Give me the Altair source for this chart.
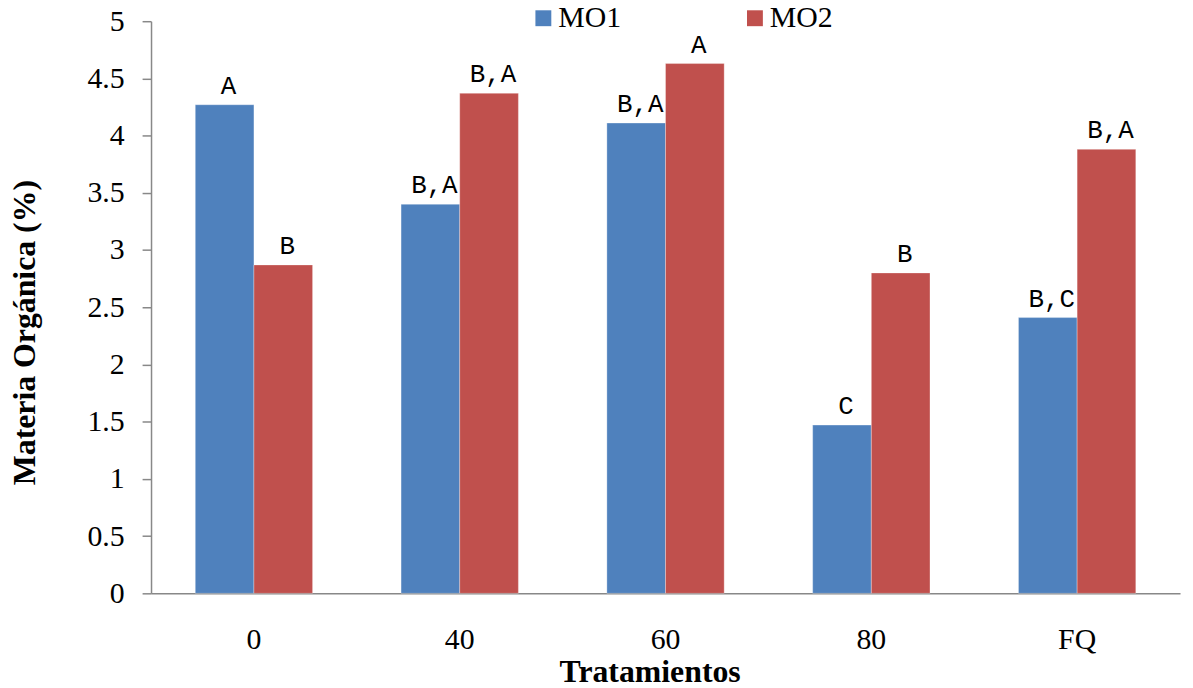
import altair as alt
import pandas as pd

tratamientos = ["0", "40", "60", "80", "FQ"]
mo1 = [4.27, 3.40, 4.11, 1.47, 2.41]
mo2 = [2.87, 4.37, 4.63, 2.80, 3.88]
letras_mo1 = ["A", "B,A", "B,A", "C", "B,C"]
letras_mo2 = ["B", "B,A", "A", "B", "B,A"]
series = ["MO1", "MO2"]
colores = ["#4F81BD", "#C0504D"]

rows = []
for t, v, l in zip(tratamientos, mo1, letras_mo1):
    rows.append({"Tratamiento": t, "Serie": "MO1", "Valor": v, "Letra": l})
for t, v, l in zip(tratamientos, mo2, letras_mo2):
    rows.append({"Tratamiento": t, "Serie": "MO2", "Valor": v, "Letra": l})
df = pd.DataFrame(rows)

serif = "Liberation Serif"
mono = "Courier New, Courier, Nimbus Mono PS, FreeMono, Liberation Mono, DejaVu Sans Mono, monospace"

x_enc = alt.X(
    "Tratamiento:N",
    sort=tratamientos,
    scale=alt.Scale(paddingInner=0.43, paddingOuter=0.215),
    axis=alt.Axis(
        title="Tratamientos",
        titleFont=serif, titleFontSize=32, titleFontWeight="bold", titleColor="black",
        titleX=502, titleY=79, titleBaseline="middle", titleAnchor=None,
        labelFont=serif, labelFontSize=30, labelColor="black", labelAngle=0,
        labelPadding=32, ticks=False, domainColor="#888888", domainWidth=1.5,
    ),
)
y_enc = alt.Y(
    "Valor:Q",
    scale=alt.Scale(domain=[0, 5], nice=False),
    axis=alt.Axis(
        title="Materia Orgánica (%)",
        titleFont=serif, titleFontSize=32, titleFontWeight="bold", titleColor="black",
        titleX=-127, titleY=313, titleAngle=270, titleBaseline="middle",
        labelFont=serif, labelFontSize=30, labelColor="black",
        values=[0, 0.5, 1, 1.5, 2, 2.5, 3, 3.5, 4, 4.5, 5],
        labelExpr="datum.value",
        labelPadding=18, tickSize=9, tickColor="#888888", domainColor="#888888",
        domainWidth=1.5, tickWidth=1.5, grid=False,
    ),
)

bars = alt.Chart(df).mark_bar(stroke="#ffffff", strokeWidth=0.6, strokeOpacity=0.5).encode(
    x=x_enc,
    xOffset=alt.XOffset("Serie:N", sort=series),
    y=y_enc,
    color=alt.Color(
        "Serie:N",
        scale=alt.Scale(domain=series, range=colores),
        legend=alt.Legend(
            title=None, orient="none", direction="horizontal",
            legendX=380, legendY=-18,
            symbolType="square", symbolSize=256, symbolStrokeWidth=0,
            labelFont=serif, labelFontSize=30, labelColor="black",
            labelOffset=0, columnPadding=119,
        ),
    ),
)

labels = alt.Chart(df).mark_text(
    font=mono, fontSize=26, baseline="alphabetic", dy=-11, dx=4, color="black"
).encode(
    x=alt.X("Tratamiento:N", sort=tratamientos),
    xOffset=alt.XOffset("Serie:N", sort=series),
    y="Valor:Q",
    text="Letra:N",
)

chart = (
    alt.layer(bars, labels)
    .properties(
        width=1036, height=576,
        autosize=alt.AutoSizeParams(type="none"),
        padding={"left": 144, "top": 11, "right": 5, "bottom": 91},
    )
    .configure_view(stroke=None)
)

chart.save("out.html", embed_options={"renderer": "svg", "actions": False})
